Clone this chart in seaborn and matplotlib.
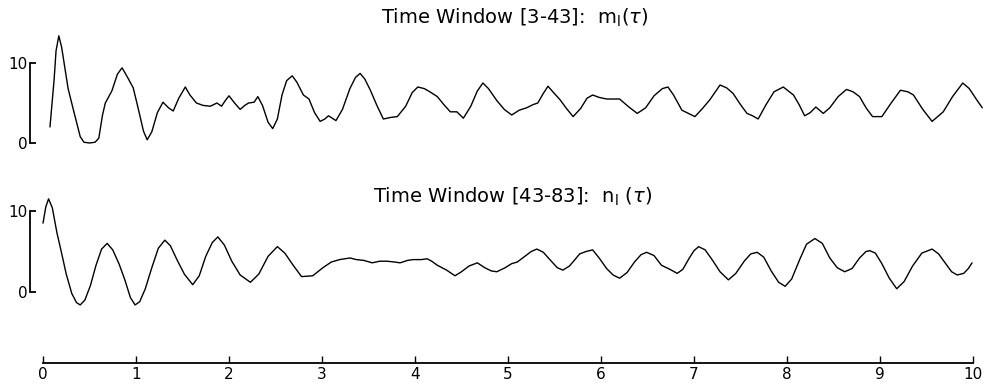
import numpy as np
import pandas as pd
import matplotlib
matplotlib.use("Agg")
import matplotlib.pyplot as plt
import seaborn as sns

# traced values, top trace m1(tau), window [3-43]
m1_x = [0.075, 0.12, 0.14, 0.17, 0.20, 0.27, 0.33, 0.40, 0.44, 0.50, 0.56, 0.60, 0.64, 0.67,
        0.74, 0.80, 0.85, 0.90, 0.97, 1.02, 1.08, 1.12, 1.17, 1.23, 1.29, 1.35, 1.40, 1.46,
        1.53, 1.58, 1.65, 1.72, 1.80, 1.87, 1.92, 1.96, 2.00, 2.06, 2.12, 2.17, 2.21, 2.27,
        2.31, 2.36, 2.42, 2.47, 2.52, 2.57, 2.62, 2.68, 2.73, 2.80, 2.86, 2.92, 2.98, 3.03,
        3.07, 3.15, 3.22, 3.30, 3.36, 3.41, 3.46, 3.52, 3.59, 3.66, 3.74, 3.81, 3.90, 3.97,
        4.03, 4.10, 4.16, 4.24, 4.31, 4.38, 4.45, 4.52, 4.60, 4.67, 4.73, 4.79, 4.88, 4.96,
        5.04, 5.12, 5.20, 5.27, 5.32, 5.38, 5.43, 5.49, 5.56, 5.63, 5.70, 5.78, 5.85, 5.91,
        5.98, 6.06, 6.13, 6.20, 6.30, 6.39, 6.48, 6.57, 6.66, 6.72, 6.78, 6.87, 6.94, 7.01,
        7.09, 7.17, 7.23, 7.28, 7.35, 7.42, 7.50, 7.57, 7.63, 7.69, 7.77, 7.86, 7.96, 8.07,
        8.13, 8.19, 8.25, 8.31, 8.39, 8.46, 8.55, 8.64, 8.71, 8.78, 8.85, 8.92, 9.02, 9.12,
        9.22, 9.30, 9.36, 9.46, 9.56, 9.68, 9.78, 9.89, 9.96, 10.04, 10.10]
m1_y = [2.0, 8.0, 11.5, 13.4, 12.0, 6.8, 4.0, 0.8, 0.1, 0.0, 0.1, 0.6, 3.5, 5.0,
        6.5, 8.6, 9.4, 8.4, 6.9, 4.5, 1.5, 0.4, 1.4, 3.8, 5.1, 4.4, 4.0, 5.6,
        7.0, 6.0, 5.0, 4.7, 4.6, 5.0, 4.6, 5.3, 5.9, 5.0, 4.2, 4.7, 5.0, 5.1,
        5.8, 4.7, 2.6, 1.8, 3.0, 6.0, 7.8, 8.4, 7.6, 6.0, 5.5, 3.8, 2.7, 3.0,
        3.4, 2.8, 4.2, 6.8, 8.2, 8.7, 8.0, 6.6, 4.7, 3.0, 3.2, 3.3, 4.6, 6.3,
        7.0, 6.8, 6.4, 5.8, 4.8, 3.9, 3.9, 3.1, 4.6, 6.5, 7.5, 6.8, 5.3, 4.2,
        3.5, 4.1, 4.4, 4.8, 5.0, 6.2, 7.1, 6.3, 5.4, 4.3, 3.3, 4.3, 5.6, 6.0,
        5.7, 5.5, 5.5, 5.5, 4.5, 3.7, 4.4, 5.9, 6.8, 7.0, 6.0, 4.1, 3.7, 3.3,
        4.3, 5.4, 6.4, 7.25, 6.9, 6.2, 4.8, 3.7, 3.4, 3.0, 4.7, 6.4, 7.0, 6.0,
        4.8, 3.4, 3.8, 4.5, 3.7, 4.4, 5.8, 6.7, 6.4, 5.8, 4.4, 3.3, 3.3, 5.0,
        6.6, 6.4, 6.0, 4.2, 2.7, 3.9, 5.8, 7.5, 6.8, 5.4, 4.4]

# bottom trace n1(tau), window [43-83]
n1_x = [0.00, 0.03, 0.06, 0.10, 0.15, 0.20, 0.25, 0.31, 0.36, 0.40, 0.45, 0.51, 0.57, 0.63,
        0.69, 0.75, 0.82, 0.88, 0.94, 0.99, 1.04, 1.10, 1.17, 1.24, 1.31, 1.37, 1.44, 1.52,
        1.61, 1.68, 1.75, 1.82, 1.88, 1.95, 2.03, 2.12, 2.23, 2.32, 2.42, 2.52, 2.60, 2.69,
        2.78, 2.90, 3.01, 3.10, 3.19, 3.30, 3.37, 3.45, 3.54, 3.62, 3.70, 3.78, 3.84, 3.92,
        3.98, 4.07, 4.13, 4.18, 4.24, 4.34, 4.43, 4.50, 4.58, 4.67, 4.75, 4.82, 4.88, 4.97,
        5.04, 5.10, 5.18, 5.25, 5.31, 5.38, 5.45, 5.53, 5.59, 5.66, 5.72, 5.77, 5.84, 5.91,
        5.98, 6.06, 6.13, 6.20, 6.28, 6.36, 6.43, 6.49, 6.57, 6.65, 6.74, 6.82, 6.88, 6.95,
        7.00, 7.05, 7.12, 7.20, 7.28, 7.37, 7.45, 7.54, 7.61, 7.68, 7.75, 7.83, 7.91, 7.98,
        8.05, 8.14, 8.21, 8.30, 8.38, 8.46, 8.54, 8.62, 8.70, 8.78, 8.85, 8.89, 8.95, 9.02,
        9.10, 9.18, 9.26, 9.35, 9.45, 9.56, 9.63, 9.70, 9.77, 9.83, 9.90, 9.95, 9.99]
n1_y = [8.5, 10.5, 11.5, 10.4, 7.3, 4.8, 2.2, -0.2, -1.3, -1.6, -1.0, 0.8, 3.3, 5.3,
        6.0, 5.2, 3.4, 1.5, -0.7, -1.6, -1.2, 0.4, 3.0, 5.4, 6.4, 5.7, 4.0, 2.2,
        0.9, 2.0, 4.4, 6.1, 6.8, 5.8, 3.8, 2.1, 1.2, 2.2, 4.4, 5.6, 4.8, 3.3,
        1.9, 2.0, 3.0, 3.7, 4.0, 4.2, 4.0, 3.9, 3.6, 3.8, 3.8, 3.7, 3.6, 3.9,
        4.0, 4.0, 4.1, 3.8, 3.3, 2.7, 2.0, 2.5, 3.2, 3.6, 3.0, 2.6, 2.5, 3.0,
        3.5, 3.7, 4.4, 5.0, 5.3, 4.9, 4.0, 3.0, 2.7, 3.2, 4.0, 4.7, 5.0, 5.2,
        4.2, 2.9, 2.1, 1.7, 2.4, 3.7, 4.6, 4.9, 4.5, 3.3, 2.8, 2.3, 2.8, 4.2,
        5.1, 5.6, 5.2, 3.9, 2.5, 1.5, 2.3, 3.8, 4.7, 4.9, 4.3, 2.6, 1.2, 0.7,
        1.6, 4.1, 5.9, 6.6, 6.0, 4.2, 3.0, 2.5, 2.9, 4.2, 5.0, 5.1, 4.8, 3.5,
        1.7, 0.4, 1.3, 3.2, 4.8, 5.3, 4.7, 3.6, 2.5, 2.1, 2.3, 2.9, 3.6]

x_ticks = [0, 1, 2, 3, 4, 5, 6, 7, 8, 9, 10]
y_ticks = [0, 10]
titles = [r"Time Window [3-43]:  m$_{\rm l}$($\tau$)", r"Time Window [43-83]:  n$_{\rm l}$ ($\tau$)"]

sns.set_style("white")
plt.rcParams['font.family'] = ['DejaVu Sans']
plt.rcParams['mathtext.fontset'] = 'dejavusans'
plt.rcParams['text.color'] = 'black'

fig = plt.figure(figsize=(9.84, 3.9), dpi=100)

left, width = 24.4 / 984, 967.2 / 984
ax_top = fig.add_axes([left, 0.6128, width, 0.3282])
ax_bot = fig.add_axes([left, 0.189, width, 0.3323])
ax_x = fig.add_axes([left, 0.0692, width, 0.05])

sns.lineplot(x=m1_x, y=m1_y, ax=ax_top, color="black", linewidth=1.0,
             solid_joinstyle="round")
sns.lineplot(x=n1_x, y=n1_y, ax=ax_bot, color="black", linewidth=1.0,
             solid_joinstyle="round")

for ax, ylim in [(ax_top, (-1, 15)), (ax_bot, (-3, 13))]:
    ax.set_xlim(-0.2, 10.2)
    ax.set_ylim(*ylim)
    ax.set_facecolor("none")
    for s in ["top", "right", "bottom"]:
        ax.spines[s].set_visible(False)
    ax.spines["left"].set_position(("data", -0.14))
    ax.spines["left"].set_bounds(0, 10)
    ax.spines["left"].set_linewidth(1.3)
    ax.spines["left"].set_color("black")
    ax.set_xticks([])
    ax.set_yticks(y_ticks)
    ax.set_yticklabels([str(t) for t in y_ticks])
    ax.tick_params(axis="y", direction="in", length=4.5, width=1.3, pad=2,
                   labelsize=11, left=True, colors="black")
    ax.set_xlabel("")
    ax.set_ylabel("")

ax_x.set_xlim(-0.2, 10.2)
ax_x.set_ylim(0, 1)
ax_x.set_facecolor("none")
for s in ["top", "right", "left"]:
    ax_x.spines[s].set_visible(False)
ax_x.spines["bottom"].set_bounds(0, 10)
ax_x.spines["bottom"].set_linewidth(1.3)
ax_x.spines["bottom"].set_color("black")
ax_x.set_yticks([])
ax_x.set_xticks(x_ticks)
ax_x.set_xticklabels([str(t) for t in x_ticks])
ax_x.tick_params(axis="x", direction="in", length=5, width=1.0, pad=3,
                 labelsize=11, bottom=True, colors="black")

fig.text(515 / 984, 1 - 18 / 390, titles[0], ha="center", va="center",
         fontsize=14, color="black")
fig.text(513 / 984, 1 - 197 / 390, titles[1], ha="center", va="center",
         fontsize=14, color="black")

fig.savefig("out.png", dpi=100)
